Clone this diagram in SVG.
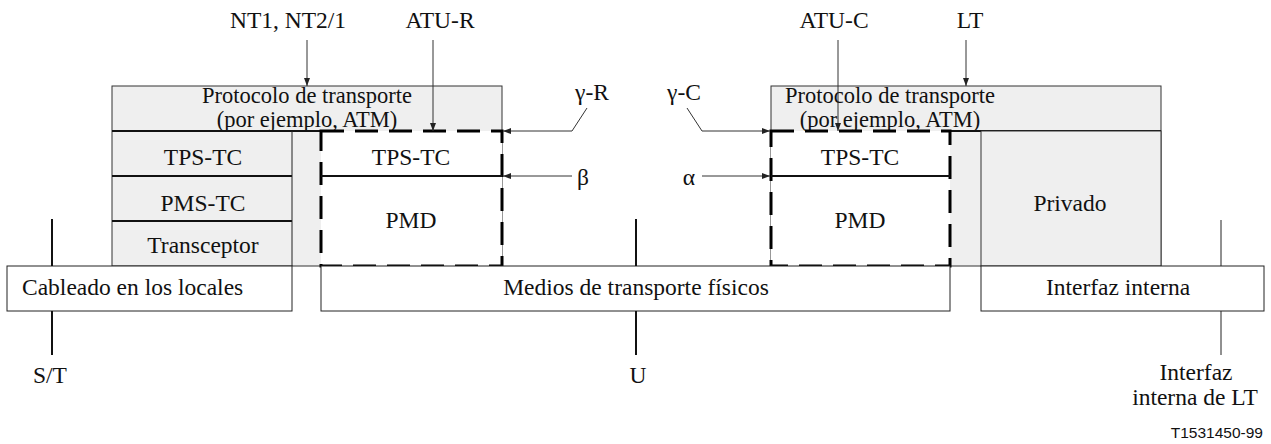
<svg xmlns="http://www.w3.org/2000/svg" width="1271" height="444" viewBox="0 0 1271 444">
<style>
text{font-family:"Liberation Serif","Times New Roman",serif;font-size:23.5px;fill:#111;}
.m{text-anchor:middle;}
.p{font-size:22.5px;}
.g{fill:#efefef;stroke:#333;stroke-width:1;}
.w{fill:#fff;stroke:#222;stroke-width:1;}
.d{fill:#fff;stroke:#000;stroke-width:3;stroke-dasharray:23 11;}
.t{stroke:#111;stroke-width:2;fill:none;}
.l{stroke:#222;stroke-width:1;fill:none;}
.a{stroke:#333;stroke-width:1;fill:none;marker-end:url(#ah);}
.sans{font-family:"Liberation Sans",Arial,sans-serif;font-size:15.5px;}
</style>
<defs>
<marker id="ah" viewBox="0 0 8 6" refX="8" refY="3" markerWidth="8" markerHeight="6" markerUnits="userSpaceOnUse" orient="auto">
<path d="M0,0 L8,3 L0,6 z" fill="#222"/>
</marker>
</defs>
<rect width="1271" height="444" fill="#fff"/>

<g id="left-stack">
<rect class="g" x="112" y="86" width="390" height="180"/>
<line class="t" x1="112" y1="131" x2="321" y2="131"/>
<line class="t" x1="112" y1="176" x2="292" y2="176"/>
<line class="t" x1="112" y1="221" x2="292" y2="221"/>
<line class="l" x1="292" y1="131" x2="292" y2="266"/>
<text class="m p" x="307" y="103">Protocolo de transporte</text>
<text class="m p" x="307" y="127">(por ejemplo, ATM)</text>
<text class="m" x="203" y="165">TPS-TC</text>
<text class="m" x="203" y="211">PMS-TC</text>
<text class="m" x="203" y="253">Transceptor</text>
</g>

<g id="atu-r">
<rect class="d" x="321" y="131" width="181" height="135"/>
<line class="t" x1="321" y1="176" x2="502" y2="176" stroke-width="2.5"/>
<text class="m" x="411" y="165">TPS-TC</text>
<text class="m" x="411" y="228">PMD</text>
</g>

<g id="right-stack">
<rect class="g" x="771" y="86" width="390" height="180"/>
<line class="t" x1="950" y1="131" x2="1161" y2="131"/>
<rect class="g" x="981" y="131" width="180" height="135"/>
<text class="m p" x="890" y="103">Protocolo de transporte</text>
<text class="m p" x="890" y="127">(por ejemplo, ATM)</text>
<text class="m" x="1070" y="211">Privado</text>
</g>

<g id="atu-c">
<rect class="d" x="771" y="131" width="179" height="135"/>
<line class="t" x1="771" y1="176" x2="950" y2="176" stroke-width="2.5"/>
<text class="m" x="860" y="165">TPS-TC</text>
<text class="m" x="860" y="228">PMD</text>
</g>

<g id="cableado">
<rect class="w" x="7" y="266" width="285" height="45"/>
<text x="22" y="295">Cableado en los locales</text>
</g>

<g id="medios">
<rect class="w" x="321" y="266" width="629" height="45"/>
<text class="m" x="636" y="295">Medios de transporte físicos</text>
</g>

<g id="interfaz">
<rect class="w" x="981" y="266" width="283" height="45"/>
<text class="m" x="1118" y="295">Interfaz interna</text>
</g>

<g id="connectors">
<line class="a" x1="307" y1="40" x2="307" y2="86"/>
<line class="a" x1="433" y1="40" x2="433" y2="131"/>
<line class="a" x1="838" y1="40" x2="838" y2="131"/>
<line class="a" x1="966" y1="40" x2="966" y2="86"/>
<path class="a" d="M587,108 L572,131 L503,131"/>
<path class="a" d="M687,108 L702,131 L770,131"/>
<line class="a" x1="572" y1="176" x2="503" y2="176"/>
<line class="a" x1="702" y1="176" x2="770" y2="176"/>
<line class="t" x1="52" y1="219" x2="52" y2="266"/>
<line class="t" x1="52" y1="311" x2="52" y2="355"/>
<line class="t" x1="636" y1="219" x2="636" y2="266"/>
<line class="t" x1="636" y1="311" x2="636" y2="355"/>
<line class="l" x1="1221" y1="220" x2="1221" y2="266"/>
<line class="l" x1="1221" y1="311" x2="1221" y2="355"/>
</g>

<g id="labels">
<text class="m" x="288" y="28">NT1, NT2/1</text>
<text class="m" x="440" y="28">ATU-R</text>
<text class="m" x="834" y="28">ATU-C</text>
<text class="m" x="970" y="28">LT</text>
<text class="m" x="592" y="100">γ-R</text>
<text class="m" x="684" y="100">γ-C</text>
<text class="m" x="583" y="185">β</text>
<text class="m" x="689" y="185">α</text>
<text class="m" x="50" y="383">S/T</text>
<text class="m" x="638" y="383">U</text>
<text class="m" x="1196" y="380">Interfaz</text>
<text class="m" x="1195" y="405">interna de LT</text>
<text class="sans" x="1263" y="438" text-anchor="end">T1531450-99</text>
</g>
</svg>
